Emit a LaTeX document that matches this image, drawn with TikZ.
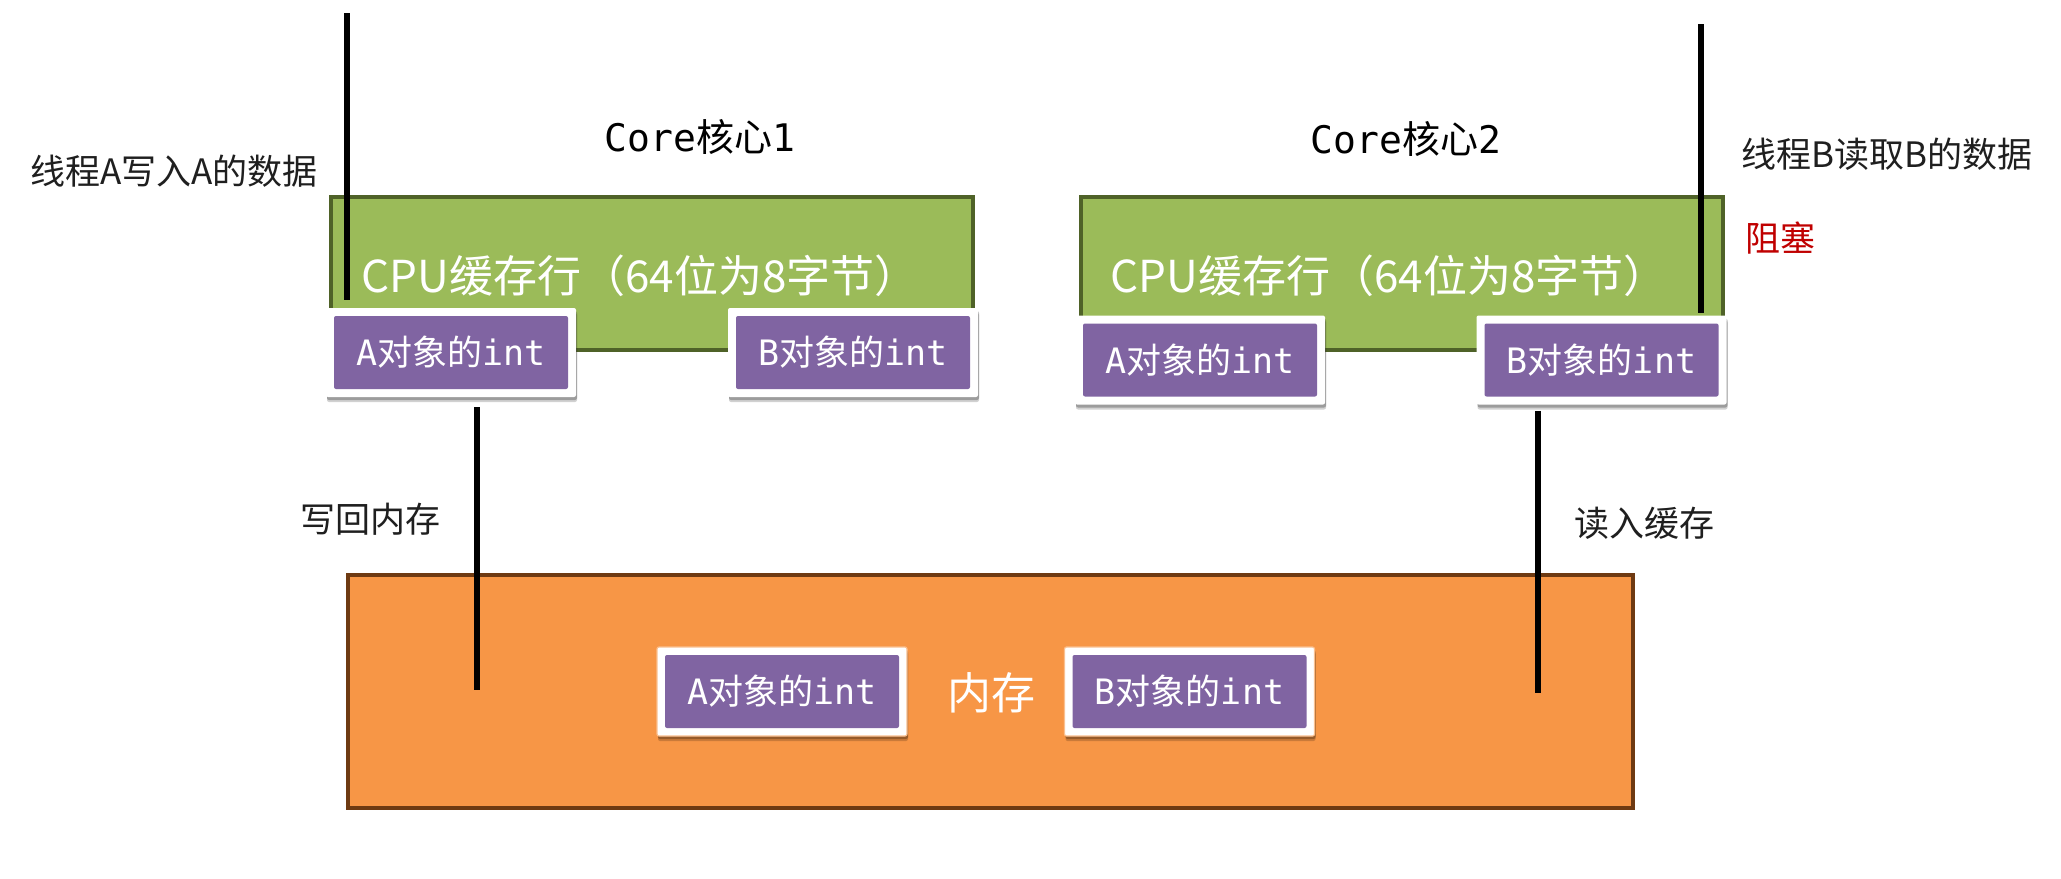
\documentclass[tikz,border=0pt]{standalone}
\usepackage{fontspec}
\setmainfont{Noto Sans CJK SC}
\newfontfamily\monof{DejaVu Sans Mono}
\usetikzlibrary{shadows}
\definecolor{pur}{HTML}{8064A2}
\definecolor{grn}{HTML}{9BBB59}
\definecolor{grnd}{HTML}{4F6228}
\definecolor{org}{HTML}{F79646}
\definecolor{orgd}{HTML}{6E3A12}
\definecolor{redt}{HTML}{C00000}
\tikzset{
  cachebox/.style={draw=grnd, line width=2pt, fill=grn, minimum width=321pt, minimum height=76.5pt, inner sep=0pt},
  membox/.style={draw=orgd, line width=2pt, fill=org, minimum width=642.5pt, minimum height=116.5pt, inner sep=0pt},
  intbox/.style={fill=white, text=white, minimum width=125pt, minimum height=44.5pt, inner sep=0pt,
    font=\fontsize{17.5}{19}\selectfont, rounded corners=1pt,
    path picture={\fill[pur] ([shift={(4pt,-4pt)}]path picture bounding box.north west) rectangle ([shift={(-4pt,4pt)}]path picture bounding box.south east);},
    general shadow={shadow xshift=0.5pt, shadow yshift=-2.5pt, opacity=0.18, fill=black},
    general shadow={shadow xshift=0.5pt, shadow yshift=-1.5pt, opacity=0.25, fill=black}},
  cputext/.style={text=white, font=\fontsize{22}{24}\selectfont, inner sep=0pt},
  coretext/.style={text=black, font=\fontsize{19}{21}\selectfont, inner sep=0pt},
  lbl/.style={text=black!88, font=\fontsize{17.5}{19}\selectfont, inner sep=0pt},
  wire/.style={draw=black, line width=2.6pt}
}
\newcommand{\intlabel}[1]{{\monof #1}对象的{\monof int}}
\begin{document}
\begin{tikzpicture}[x=0.5pt,y=-0.5pt]
\useasboundingbox (0,0) rectangle (2061,878);
\fill[white] (0,0) rectangle (2061,878);

% cores
\node[cachebox] (c1) at (652,273.5) {};
\node[cachebox] (c2) at (1402,273.5) {};
\node[cputext] (cpu1) at (640,276) {CPU缓存行（64位为8字节）};
\node[cputext] (cpu2) at (1389,276) {CPU缓存行（64位为8字节）};
\node[coretext] (k1) at (700,137) {{\monof Core}核心{\monof 1}};
\node[coretext] (k2) at (1406,139) {{\monof Core}核心{\monof 2}};

% thread lines
\coordinate (tA) at (347,13);
\coordinate (tB) at (1701,24);

% int boxes in cores
\node[intbox] (a1) at (451,352.5) {\intlabel{A}};
\node[intbox] (b1) at (853,352.5) {\intlabel{B}};
\node[intbox] (a2) at (1200,360) {\intlabel{A}};
\node[intbox] (b2) at (1601.5,360) {\intlabel{B}};

\draw[wire, shorten >=4pt] (tA) -- (tA |- a1.north);
\draw[wire, shorten >=1pt] (tB) -- (tB |- b2.north);

% labels
\node[lbl] (thA) at (174,171) {线程A写入A的数据};
\node[lbl] (thB) at (1887,154) {线程B读取B的数据};
\node[lbl, text=redt] (blk) at (1780,238) {阻塞};
\node[lbl] (wb) at (370,519) {写回内存};
\node[lbl] (rd) at (1644,523) {读入缓存};

% memory
\node[membox] (mem) at (990.5,691.5) {};
\node[intbox, draw=org!60, line width=0.6pt] (ma) at (782,691.5) {\intlabel{A}};
\node[intbox, draw=org!60, line width=0.6pt] (mb) at (1189.5,691.5) {\intlabel{B}};
\node[text=white, font=\fontsize{22}{24}\selectfont, inner sep=0pt] (mt) at (991,693) {内存};

\coordinate (wA) at (477,690);
\coordinate (rB) at (1538,693);
\draw[wire, shorten <=5pt] (a1.south -| wA) -- (wA);
\draw[wire, shorten <=3pt] (b2.south -| rB) -- (rB);
\end{tikzpicture}
\end{document}
